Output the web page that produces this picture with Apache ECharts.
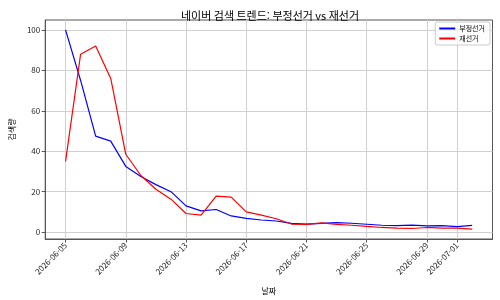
<!DOCTYPE html>
<html lang="ko">
<head>
	<meta charset="utf-8">
	<title>네이버 검색 트렌드</title>
	<script src="https://cdn.jsdelivr.net/npm/echarts@6/dist/echarts.min.js"></script>
	<style>
		html, body { margin: 0; padding: 0; background: #fff; }
		#panel { width: 500px; height: 300px; }
	</style>
</head>
<body>
	<div id="panel"></div>
	<script type="text/javascript">
		// 날짜 (2026-06-05 ~ 2026-07-02)
		const dates = [
			'2026-06-05', '2026-06-06', '2026-06-07', '2026-06-08', '2026-06-09', '2026-06-10', '2026-06-11',
			'2026-06-12', '2026-06-13', '2026-06-14', '2026-06-15', '2026-06-16', '2026-06-17', '2026-06-18',
			'2026-06-19', '2026-06-20', '2026-06-21', '2026-06-22', '2026-06-23', '2026-06-24', '2026-06-25',
			'2026-06-26', '2026-06-27', '2026-06-28', '2026-06-29', '2026-06-30', '2026-07-01', '2026-07-02'
		];
		// 부정선거
		const fraudValues = [
			100, 75, 47.5, 45, 32.5, 27.5, 23.5, 20, 13, 10.5, 11.2, 8, 6.8, 6,
			5.5, 4.3, 4, 4.3, 4.7, 4.4, 3.9, 3.4, 3.2, 3.5, 3.1, 3.2, 2.7, 3.3
		];
		// 재선거
		const reelectValues = [
			35, 88, 92, 76, 38.5, 28, 21.2, 16.3, 9.2, 8.4, 17.8, 17.3, 10, 8.4,
			6.6, 4, 3.8, 4.6, 3.8, 3.4, 2.8, 2.3, 2, 1.8, 2.3, 2, 2, 1.5
		];
		// 눈금
		const xTickDates = ['2026-06-05', '2026-06-09', '2026-06-13', '2026-06-17', '2026-06-21', '2026-06-25', '2026-06-29', '2026-07-01'];
		const yTicks = [0, 20, 40, 60, 80, 100];

		const font = "'Noto Sans CJK KR', 'DejaVu Sans', sans-serif";
		const xTicks = xTickDates.map(d => dates.indexOf(d));
		const toPoints = arr => arr.map((v, i) => [i, v]);

		const panel = echarts.init(document.getElementById('panel'), null, { renderer: 'canvas' });
		const option = {
			animation: false,
			backgroundColor: '#fff',
			textStyle: { fontFamily: font },
			title: {
				text: '네이버 검색 트렌드: 부정선거 vs 재선거',
				left: 265, top: 5, textAlign: 'center',
				textStyle: { fontFamily: font, fontSize: 11, fontWeight: 'normal', color: '#000' }
			},
			legend: {
				right: 10, top: 22, orient: 'vertical', itemGap: 3,
				itemWidth: 16, itemHeight: 2,
				padding: [3, 5, 3, 4],
				borderColor: '#ccc', borderWidth: 1, borderRadius: 2,
				backgroundColor: 'rgba(255,255,255,0.8)',
				icon: 'rect',
				textStyle: { fontFamily: font, fontSize: 7, color: '#000', padding: [0, 0, 0, -1] },
				data: ['부정선거', '재선거']
			},
			grid: { left: 38, right: 7.5, top: 20, bottom: 60 },
			xAxis: {
				type: 'value',
				min: -1.35, max: 28.35,
				name: '날짜', nameLocation: 'middle', nameGap: 48,
				nameTextStyle: { fontFamily: font, fontSize: 8, color: '#000' },
				axisLine: { show: true, onZero: false, lineStyle: { color: '#555', width: 1 } },
				axisTick: { show: true, length: 3.5, customValues: xTicks, lineStyle: { color: '#555' } },
				axisLabel: {
					customValues: xTicks, rotate: 45, fontSize: 8, color: '#222', margin: 5,
					fontFamily: font,
					formatter: v => dates[Math.round(v)]
				},
				splitLine: { show: true, lineStyle: { color: '#d0d0d0', width: 1 } }
			},
			yAxis: {
				type: 'value',
				min: -3.4, max: 104.9,
				name: '검색량', nameLocation: 'middle', nameGap: 24,
				nameTextStyle: { fontFamily: font, fontSize: 8, color: '#000' },
				axisLine: { show: true, onZero: false, lineStyle: { color: '#555', width: 1 } },
				axisTick: { show: true, length: 3.5, customValues: yTicks, lineStyle: { color: '#555' } },
				axisLabel: { customValues: yTicks, fontSize: 8, color: '#222', margin: 5, fontFamily: font },
				splitLine: { show: true, lineStyle: { color: '#d0d0d0', width: 1 } }
			},
			series: [
				{
					name: '부정선거', type: 'line', data: toPoints(fraudValues),
					showSymbol: false, symbol: 'none',
					lineStyle: { color: '#0000ff', width: 1.2 }, itemStyle: { color: '#0000ff' }
				},
				{
					name: '재선거', type: 'line', data: toPoints(reelectValues),
					showSymbol: false, symbol: 'none',
					lineStyle: { color: '#ff0000', width: 1.2 }, itemStyle: { color: '#ff0000' }
				}
			]
		};
		panel.setOption(option);

		// 오른쪽/위쪽 테두리
		const rect = panel.getModel().getComponent('grid').coordinateSystem.getRect();
		panel.setOption({
			graphic: [{
				type: 'rect', silent: true, z: -1,
				shape: { x: rect.x, y: rect.y, width: rect.width, height: rect.height },
				style: { fill: null, stroke: '#555', lineWidth: 1 }
			}]
		});
	</script>
</body>
</html>
